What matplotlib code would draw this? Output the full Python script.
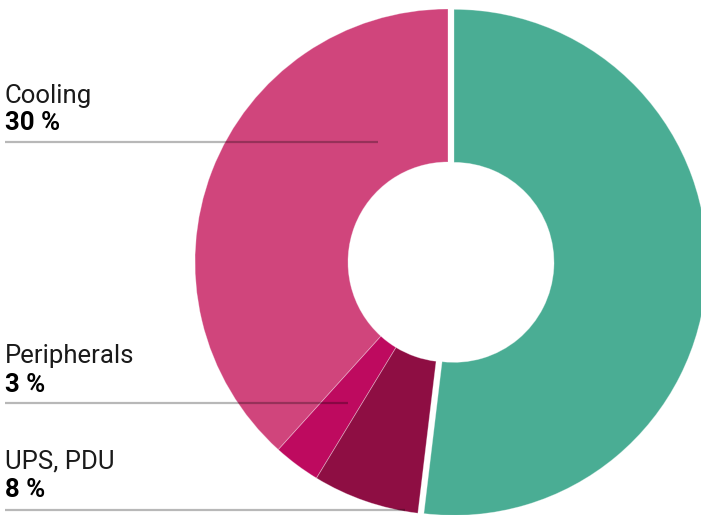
import matplotlib
matplotlib.use("Agg")
import matplotlib.pyplot as plt

# slice shares (counterclockwise from 12 o'clock)
names = ["Cooling", "Peripherals", "UPS, PDU", "IT equipment"]
shares = [38.3, 3.0, 6.8, 51.9]
colors = ["#D0457C", "#BE0A5F", "#8E0E43", "#4AAD94"]

# printed labels on the left
label_names = ["Cooling", "Peripherals", "UPS, PDU"]
label_values = ["30 %", "3 %", "8 %"]

W, H = 701, 515
fig = plt.figure(figsize=(W / 100, H / 100), dpi=100)
ax = fig.add_axes([0, 0, 1, 1])

# donut, pixel units
cx, cy, r_out, r_in = 448, H - 262, 253, 100
wedges, _ = ax.pie(shares, colors=colors, startangle=90, counterclock=True,
                   center=(cx, cy), radius=r_out, explode=[0, 0, 0, 6],
                   wedgeprops=dict(width=r_out - r_in,
                                   edgecolor=(1, 1, 1, 0.35), linewidth=0.6))
ax.set_xlim(0, W)
ax.set_ylim(0, H)
ax.set_aspect("equal")
ax.axis("off")

# label blocks: (name baseline, value baseline, rule y, rule end x) in px from top
blocks = [(103, 130, 142, 378), (363, 392, 403, 348), (468, 497, 510, 405)]
for (nm, val), (yb1, yb2, yl, xe) in zip(zip(label_names, label_values), blocks):
    ax.text(5, H - yb1, nm, fontsize=18.5, family="Roboto", color="#1a1a1a",
            ha="left", va="baseline")
    ax.text(5, H - yb2, val, fontsize=18.5, family="Roboto", weight="bold",
            color="#000000", ha="left", va="baseline")
    ax.plot([5, xe], [H - yl, H - yl], color="black", alpha=0.28, lw=1.6,
            solid_capstyle="butt", zorder=5)

fig.savefig("out.png", dpi=100)
